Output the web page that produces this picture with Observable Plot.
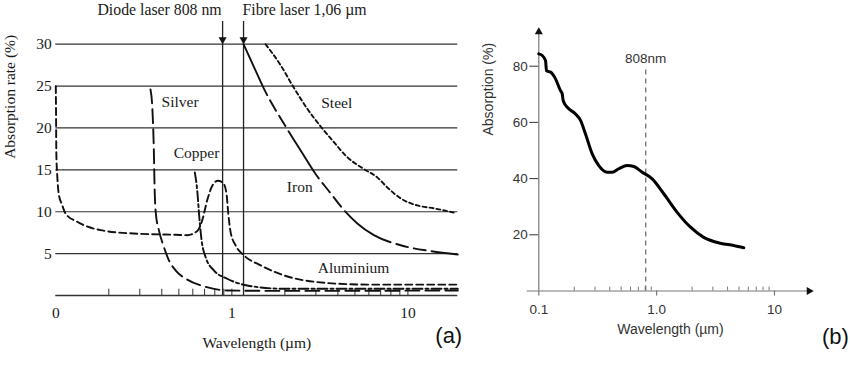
<!DOCTYPE html>
<html>
<head>
<meta charset="utf-8">
<script src="https://cdn.jsdelivr.net/npm/d3@7"></script>
<script src="https://cdn.jsdelivr.net/npm/@observablehq/plot@0.6"></script>
<style>
  html, body { margin: 0; padding: 0; background: #fff; }
  body { width: 850px; height: 369px; position: relative; overflow: hidden; }
  #panelA { position: absolute; left: 0; top: 0; }
  #panelB { position: absolute; left: 470px; top: 0; }
</style>
</head>
<body>
<div id="panelA"></div>
<div id="panelB"></div>
<script>
// ---------- Panel (a) data: [wavelength µm, absorption %] ----------
const aluminium = [[0.1,25],[0.1003,22],[0.1007,17],[0.1018,14.5],[0.104,12.1],[0.1087,10.8],[0.1135,9.8],[0.1323,8.8],[0.1795,7.8],[0.2764,7.4],[0.479,7.25],[0.558,7.2],[0.636,7.7],[0.679,9.0],[0.725,11.4],[0.774,13.1],[0.833,13.7],[0.894,13.4],[0.933,12.1],[0.954,9.8],[0.983,7.6],[1.049,6.0],[1.17,4.8],[1.456,3.6],[1.975,2.4],[3.06,1.6],[5.88,1.3],[19.2,1.3]];
const silver = [[0.345,24.6],[0.354,22.1],[0.3605,17.3],[0.364,12.9],[0.370,9.8],[0.385,7.8],[0.411,5.8],[0.439,4.2],[0.479,3.0],[0.558,1.9],[0.693,1.1],[0.941,0.6],[2,0.55],[19.2,0.6]];
const copper = [[0.616,14.7],[0.636,12.5],[0.653,9.4],[0.673,6.6],[0.709,4.6],[0.79,3.0],[0.941,2.0],[1.223,1.2],[1.975,0.8],[19.2,0.8]];
const iron = [[1.165,30],[1.334,27.3],[1.52,24.7],[2.018,20.2],[2.46,17.3],[2.99,14.5],[3.64,12.2],[4.33,10.2],[5.16,8.6],[6.41,7.2],[9.09,6.0],[13.5,5.3],[19.2,4.9]];
const steel = [[1.554,30],[1.891,27.5],[2.25,24.8],[2.68,22.3],[3.19,20.2],[3.80,18.3],[4.53,16.5],[5.62,15.1],[6.70,14.1],[7.64,12.9],[9.09,11.6],[11.3,10.75],[14.06,10.4],[18.2,9.9]];

const curveNames = ["Silver", "Copper", "Steel", "Iron", "Aluminium"];
const curveLabelX = [0.508, 0.630, 3.94, 2.43, 4.91];
const curveLabelY = [23.06, 16.97, 22.94, 12.9, 3.23];

const laserX = [0.886, 1.165];
const laserLabels = ["Diode laser 808 nm", "Fibre laser 1,06 µm"];

const gridA = [5, 10, 15, 20, 25, 30];
const xTicksA = [0.1, 1, 10];
const xTickLabelsA = ["0", "1", "10"];
const minorTicksA = [0.2,0.3,0.4,0.5,0.6,0.7,0.8,0.9,1,2,3,4,5,6,7,8,9,10];

// ---------- Panel (b) data ----------
const absorptionB = [[0.1,84.4],[0.1069,83.8],[0.114,82.0],[0.1162,78.4],[0.1257,77.9],[0.1386,75.5],[0.1528,71.3],[0.1579,70.2],[0.161,67.8],[0.1742,65.4],[0.2048,63.0],[0.226,60.7],[0.249,55.9],[0.284,48.8],[0.323,44.6],[0.380,42.3],[0.420,42.3],[0.477,43.5],[0.562,44.7],[0.640,44.3],[0.754,42.3],[0.917,39.9],[1.15,34.6],[1.494,28.0],[1.938,22.7],[2.51,19.1],[3.48,17.0],[4.52,16.2],[5.49,15.4]];
const yTicksB = [20, 40, 60, 80];
const xMajorB = [0.1, 1, 10];
const xMajorLabelsB = ["0.1", "1.0", "10"];
const xMinorB = [0.2,0.3,0.4,0.5,0.6,0.7,0.8,0.9,2,3,4,5,6,7,8,9];
const markerB = 0.808;

const serif = "'Liberation Serif', 'DejaVu Serif', serif";
const sans = "'Liberation Sans', Arial, sans-serif";
const ink = "#1a1a1a";

const px = d => d[0], py = d => d[1];

const plotA = Plot.plot({
  width: 470, height: 369,
  marginLeft: 55.3, marginRight: 12.7, marginTop: 43.7, marginBottom: 74,
  style: { fontFamily: serif, fontSize: "15.5px", color: ink, background: "transparent" },
  x: { type: "log", domain: [0.1, 19.2], axis: null },
  y: { domain: [0, 30], axis: null },
  marks: [
    Plot.ruleY(gridA, { y: d => d, x1: 0.1, x2: 19.2, stroke: "#333", strokeWidth: 1.2 }),
    Plot.ruleY([0], { x1: 0.1, x2: 19.2, stroke: "#333", strokeWidth: 1.3 }),
    Plot.ruleX(minorTicksA, { x: d => d, y1: 0, y2: 0.75, stroke: "#333", strokeWidth: 1 }),
    Plot.text(gridA, { x: 0.1, y: d => d, text: d => String(d), textAnchor: "end", dx: -4, fill: ink }),
    Plot.text(xTicksA, { x: d => d, y: 0, text: (d, i) => xTickLabelsA[i], dy: 18, fill: ink }),
    // lasers
    Plot.ruleX(laserX, { x: d => d, y1: 0, y2: 32.7, stroke: "#222", strokeWidth: 1.3 }),
    Plot.dot(laserX, { x: d => d, y: 30, symbol: "triangle", rotate: 180, r: 3, fill: "#111", stroke: "none", dy: -4.7 }),
    Plot.text([laserX[0]], { x: d => d, y: 30, text: () => laserLabels[0], textAnchor: "end", dx: -1, dy: -34.5, fontSize: 15.8, fill: ink }),
    Plot.text([laserX[1]], { x: d => d, y: 30, text: () => laserLabels[1], textAnchor: "start", dx: -1, dy: -34.5, fontSize: 15.8, fill: ink }),
    // curves
    Plot.line(aluminium, { x: px, y: py, stroke: "#111", strokeWidth: 1.9, strokeDasharray: "7,4", curve: "monotone-x" }),
    Plot.line(silver, { x: px, y: py, stroke: "#111", strokeWidth: 1.9, strokeDasharray: "14,6", curve: "monotone-x" }),
    Plot.line(copper, { x: px, y: py, stroke: "#111", strokeWidth: 1.9, strokeDasharray: "10,3,3,3", curve: "monotone-x" }),
    Plot.line(iron, { x: px, y: py, stroke: "#111", strokeWidth: 1.9, strokeDasharray: "56,6,12,6,12,6", curve: "monotone-x" }),
    Plot.line(steel, { x: px, y: py, stroke: "#111", strokeWidth: 1.9, strokeDasharray: "4,3", curve: "monotone-x" }),
    Plot.text(curveNames, { x: (d, i) => curveLabelX[i], y: (d, i) => curveLabelY[i], text: d => d, fill: ink }),
    // axis titles
    Plot.text(["Wavelength (µm)"], { frameAnchor: "bottom", text: d => d, dy: 52, fill: ink }),
    Plot.text(["Absorption rate (%)"], { frameAnchor: "left", text: d => d, rotate: -90, dx: -46, dy: -11, fill: ink }),
    Plot.text(["(a)"], { frameAnchor: "bottom-right", text: d => d, textAnchor: "end", dx: 4.4, dy: 47, fontFamily: sans, fontSize: 22, fill: "#111" })
  ]
});
document.getElementById("panelA").append(plotA);

const plotB = Plot.plot({
  width: 380, height: 369,
  marginLeft: 68.3, marginRight: 36.7, marginTop: 9.5, marginBottom: 78.5,
  style: { fontFamily: sans, fontSize: "13.5px", color: "#333", background: "transparent" },
  x: { type: "log", domain: [0.1, 21.56], axis: null },
  y: { domain: [0, 100], ticks: yTicksB, tickSize: 9, tickPadding: 2, label: null, tickFormat: d => String(d) },
  marks: [
    Plot.ruleY([0], { x1: 0.0797, x2: 21.0, stroke: "#777", strokeWidth: 1.2 }),
    Plot.dot([21.56], { x: d => d, y: 0, symbol: "triangle", rotate: 90, r: 3, fill: "#111", stroke: "none", dx: -4.7 }),
    Plot.ruleX([0.1], { y1: 0, y2: 92.5, stroke: "#777", strokeWidth: 1.2 }),
    Plot.dot([0.1], { x: d => d, y: 93.9, symbol: "triangle", r: 3, fill: "#111", stroke: "none", dy: 4.7 }),
    Plot.ruleX(xMajorB, { x: d => d, y1: 0, y2: -1.8, stroke: "#777", strokeWidth: 1.2 }),
    Plot.ruleX(xMinorB, { x: d => d, y1: 0, y2: 1.4, stroke: "#777", strokeWidth: 1 }),
    Plot.text(xMajorB, { x: d => d, y: 0, text: (d, i) => xMajorLabelsB[i], dy: 19, fill: "#333" }),
    Plot.ruleX([markerB], { x: d => d, y1: 0, y2: 79.1, stroke: "#666", strokeWidth: 1.2, strokeDasharray: "5,4" }),
    Plot.text([markerB], { x: d => d, y: 79.1, text: () => "808nm", dy: -10, fill: "#333" }),
    Plot.line(absorptionB, { x: px, y: py, stroke: "#000", strokeWidth: 3, curve: "monotone-x" }),
    Plot.text(["Wavelength (µm)"], { frameAnchor: "bottom", text: d => d, dx: -5.8, dy: 42.5, fontSize: 14, fill: "#333" }),
    Plot.text(["Absorption (%)"], { frameAnchor: "left", text: d => d, rotate: -90, dx: -50, dy: -15, fontSize: 14, fill: "#333" }),
    Plot.text(["(b)"], { frameAnchor: "bottom-right", text: d => d, textAnchor: "end", dx: 35, dy: 52.5, fontSize: 22, fill: "#111" })
  ]
});
document.getElementById("panelB").append(plotB);
</script>
</body>
</html>
